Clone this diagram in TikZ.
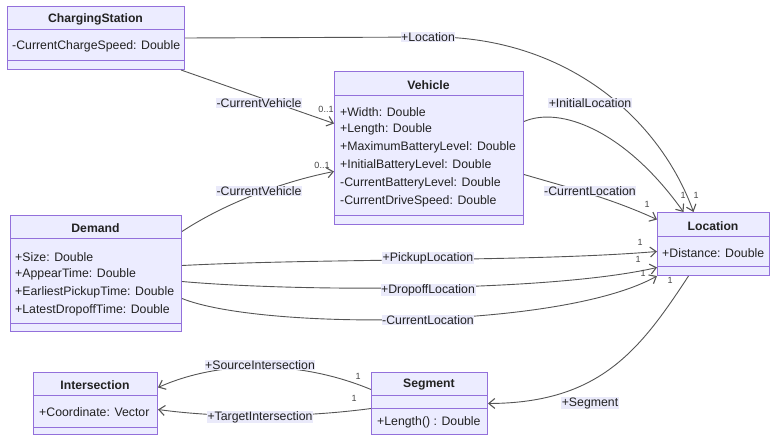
\documentclass[tikz,border=0pt]{standalone}
\usepackage{fontspec}
\setmainfont{Liberation Sans}
\usetikzlibrary{arrows.meta}
\definecolor{boxfill}{HTML}{ECECFF}
\definecolor{boxline}{HTML}{9370DB}
\definecolor{edgecol}{HTML}{555555}
\definecolor{txtcol}{HTML}{222222}
\definecolor{lblfill}{HTML}{EAEAFA}
\tikzset{
  cbox/.style={draw=boxline, fill=boxfill, line width=1pt, rectangle, anchor=north west, inner sep=0pt},
  cdiv/.style={draw=boxline, line width=1pt},
  ctitle/.style={font=\fontsize{12.2}{14}\selectfont\bfseries, text=txtcol, inner sep=0pt},
  cattr/.style={font=\fontsize{12.3}{14}\selectfont, text=txtcol, inner sep=0pt, anchor=west},
  elbl/.style={font=\fontsize{12.3}{14}\selectfont, text=txtcol, fill=lblfill, inner sep=0.6pt},
  card/.style={font=\fontsize{9}{10}\selectfont, text=edgecol!80!black, inner sep=0pt},
  assoc/.style={draw=edgecol, line width=0.9pt, -{Straight Barb[length=6pt,width=10pt,line width=1.1pt]}},
}
\begin{document}
\begin{tikzpicture}[x=1pt,y=-1pt]
\useasboundingbox (0,0) rectangle (784,446);

% ChargingStation
\node[cbox, minimum width=177pt, minimum height=63pt] (cs) at (7,6) {};
\draw[cdiv] (7,30) -- (184,30);
\draw[cdiv] (7,61) -- (184,61);
\node[ctitle] (cs-t) at (95.5,19) {ChargingStation};
\node[cattr] (cs-a1) at (12,46) {-CurrentChargeSpeed: Double};

% Vehicle
\node[cbox, minimum width=189pt, minimum height=153pt] (veh) at (334,71) {};
\draw[cdiv] (334,96) -- (523,96);
\draw[cdiv] (334,216) -- (523,216);
\node[ctitle] (veh-t) at (428.5,85) {Vehicle};
\node[cattr] (veh-a1) at (340,112) {+Width: Double};
\node[cattr] (veh-a2) at (340,129.5) {+Length: Double};
\node[cattr] (veh-a3) at (340,147.5) {+MaximumBatteryLevel: Double};
\node[cattr] (veh-a4) at (340,165.5) {+InitialBatteryLevel: Double};
\node[cattr] (veh-a5) at (340,183.5) {-CurrentBatteryLevel: Double};
\node[cattr] (veh-a6) at (340,201.5) {-CurrentDriveSpeed: Double};

% Location
\node[cbox, minimum width=112pt, minimum height=63pt] (loc) at (657,212) {};
\draw[cdiv] (657,237) -- (769,237);
\draw[cdiv] (657,267) -- (769,267);
\node[ctitle] (loc-t) at (713,226) {Location};
\node[cattr] (loc-a1) at (662,253) {+Distance: Double};

% Demand
\node[cbox, minimum width=171pt, minimum height=116pt] (dem) at (10,215) {};
\draw[cdiv] (10,239) -- (181,239);
\draw[cdiv] (10,323) -- (181,323);
\node[ctitle] (dem-t) at (95.5,228) {Demand};
\node[cattr] (dem-a1) at (15,257) {+Size: Double};
\node[cattr] (dem-a2) at (15,274) {+AppearTime: Double};
\node[cattr] (dem-a3) at (15,292) {+EarliestPickupTime: Double};
\node[cattr] (dem-a4) at (15,310) {+LatestDropoffTime: Double};

% Intersection
\node[cbox, minimum width=124pt, minimum height=62pt] (inter) at (33,372) {};
\draw[cdiv] (33,395) -- (157,395);
\draw[cdiv] (33,427) -- (157,427);
\node[ctitle] (inter-t) at (95,385) {Intersection};
\node[cattr] (inter-a1) at (39,412) {+Coordinate: Vector};

% Segment
\node[cbox, minimum width=116pt, minimum height=62pt] (seg) at (371,372) {};
\draw[cdiv] (371,395) -- (487,395);
\draw[cdiv] (371,408) -- (487,408);
\node[ctitle] (seg-t) at (429,385) {Segment};
\node[cattr] (seg-m1) at (377,422) {+Length() : Double};

% Connectors
\draw[assoc] (cs.east) -- (440,37) .. controls (570,40) and (660,120) .. ([xshift=-20pt]loc.north);
\draw[assoc] ([yshift=26.5pt]veh.east) .. controls (560,106) and (625,130) .. ([xshift=-30pt]loc.north);
\draw[assoc] ([xshift=-4pt]cs.south east) -- ([yshift=24.5pt]veh.west);
\draw[assoc] ([yshift=42pt]dem.east) .. controls (230,200) and (290,180) .. ([yshift=-23.5pt]veh.west);
\draw[assoc] ([yshift=-26.5pt]veh.east) .. controls (570,188) and (610,198) .. ([yshift=24.5pt]loc.west);
\draw[assoc] ([yshift=8pt]dem.east) .. controls (330,258) and (530,262) .. ([yshift=-7.5pt]loc.west);
\draw[assoc] ([yshift=-8pt]dem.east) .. controls (300,292) and (550,292) .. ([yshift=-23.5pt]loc.west);
\draw[assoc] ([yshift=-25pt]dem.east) .. controls (260,330) and (560,330) .. (loc.south west);
\draw[assoc] ([xshift=-25pt]loc.south) .. controls (640,350) and (600,403) .. (seg.east);
\draw[assoc] ([yshift=14pt]seg.west) .. controls (300,360) and (220,360) .. ([yshift=16pt]inter.east);
\draw[assoc] ([yshift=-5pt]seg.west) .. controls (300,418) and (220,418) .. ([yshift=-6pt]inter.east);

% Edge labels
\node[elbl] (l-loc) at (428,37) {+Location};
\node[elbl] (l-init) at (590,103) {+InitialLocation};
\node[elbl] (l-cv1) at (259,103) {-CurrentVehicle};
\node[elbl] (l-cv2) at (259,191) {-CurrentVehicle};
\node[elbl] (l-cl1) at (590,191) {-CurrentLocation};
\node[elbl] (l-pick) at (428,258) {+PickupLocation};
\node[elbl] (l-drop) at (428,290) {+DropoffLocation};
\node[elbl] (l-cl2) at (428,320) {-CurrentLocation};
\node[elbl] (l-seg) at (590,403) {+Segment};
\node[elbl] (l-src) at (260,365) {+SourceIntersection};
\node[elbl] (l-tgt) at (260,417) {+TargetIntersection};

% Cardinalities
\node[card] (c1) at (683,195) {1};
\node[card] (c2) at (696,195) {1};
\node[card] (c3) at (647,204) {1};
\node[card] (c4) at (640,242) {1};
\node[card] (c5) at (638,259) {1};
\node[card] (c6) at (643,273) {1};
\node[card] (c7) at (670,280) {1};
\node[card] (c8) at (326,109) {0..1};
\node[card] (c9) at (322,165) {0..1};
\node[card] (c10) at (358,376) {1};
\node[card] (c11) at (354,398) {1};
\end{tikzpicture}
\end{document}
